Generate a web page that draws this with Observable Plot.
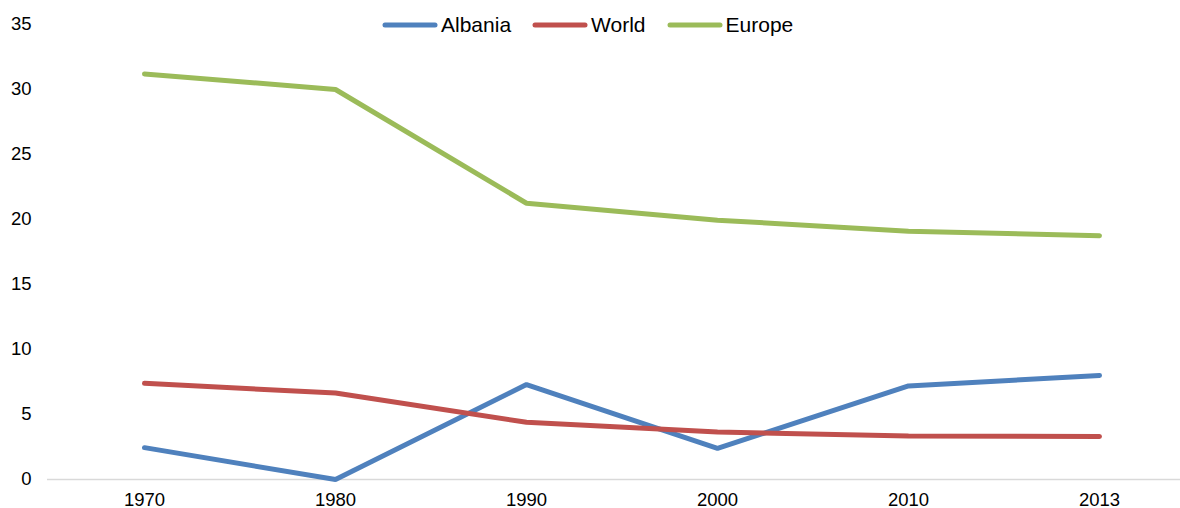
<!DOCTYPE html>
<html>
<head>
<meta charset="utf-8">
<script src="https://cdn.jsdelivr.net/npm/d3@7"></script>
<script src="https://cdn.jsdelivr.net/npm/@observablehq/plot@0.6"></script>
<style>
  body { margin: 0; background: #fff; overflow: hidden; font-family: "Liberation Sans", Arial, sans-serif; }
  #wrap { position: relative; width: 1180px; height: 508px; }
  #legend { position: absolute; top: 12px; left: 382px; display: flex; align-items: center; font-size: 21px; color: #000; line-height: 26px; }
  #legend .item { display: flex; align-items: center; margin-right: 21px; }
  #legend svg { display: block; margin-right: 3px; }
</style>
</head>
<body>
<div id="wrap">
  <div id="chart"></div>
  <div id="legend"></div>
</div>
<script>
const years = ["1970", "1980", "1990", "2000", "2010", "2013"];
const albania = [2.45, 0, 7.3, 2.4, 7.2, 8.0];
const world = [7.4, 6.65, 4.4, 3.65, 3.35, 3.3];
const europe = [31.2, 30.0, 21.25, 19.95, 19.1, 18.75];
const seriesNames = ["Albania", "World", "Europe"];
const seriesColors = ["#4F81BD", "#C0504D", "#9BBB59"];
const yTicks = [0, 5, 10, 15, 20, 25, 30, 35];

const seriesValues = [albania, world, europe];
const rows = seriesNames.flatMap((name, i) =>
  years.map((year, j) => ({ series: name, year, value: seriesValues[i][j] }))
);

const chart = Plot.plot({
  width: 1180,
  height: 508,
  marginLeft: 47,
  marginRight: 0,
  marginTop: 24,
  marginBottom: 29,
  style: { fontFamily: "'Liberation Sans', Arial, sans-serif", color: "#000", background: "transparent", overflow: "visible" },
  x: { type: "point", domain: years, range: [143, 1100], padding: 0, label: null },
  y: { domain: [0, 35], label: null },
  color: { domain: seriesNames, range: seriesColors },
  marks: [
    Plot.ruleY([0], { stroke: "#d9d9d9", strokeWidth: 1.5 }),
    Plot.axisY({ ticks: yTicks, tickSize: 0, tickPadding: 16, fontSize: 18.5, label: null }),
    Plot.axisX({ tickSize: 0, tickPadding: 13, fontSize: 18.5, label: null }),
    Plot.line(rows, {
      x: "year", y: "value", z: "series", stroke: "series",
      strokeWidth: 5, strokeLinecap: "round", strokeLinejoin: "miter"
    })
  ]
});
document.getElementById("chart").appendChild(chart);

const legend = document.getElementById("legend");
seriesNames.forEach((name, i) => {
  const item = document.createElement("div");
  item.className = "item";
  const ns = "http://www.w3.org/2000/svg";
  const svg = document.createElementNS(ns, "svg");
  svg.setAttribute("width", "56");
  svg.setAttribute("height", "10");
  const line = document.createElementNS(ns, "line");
  line.setAttribute("x1", "3"); line.setAttribute("x2", "53");
  line.setAttribute("y1", "5"); line.setAttribute("y2", "5");
  line.setAttribute("stroke", seriesColors[i]);
  line.setAttribute("stroke-width", "5");
  line.setAttribute("stroke-linecap", "round");
  svg.appendChild(line);
  const label = document.createElement("span");
  label.textContent = name;
  item.appendChild(svg);
  item.appendChild(label);
  legend.appendChild(item);
});
</script>
</body>
</html>
